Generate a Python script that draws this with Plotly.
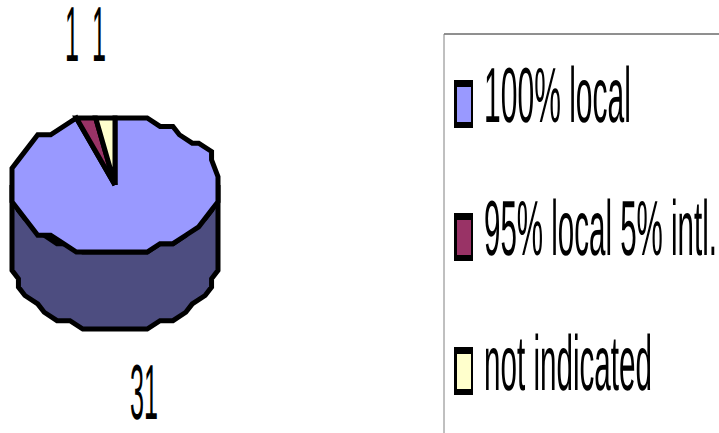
import math
import plotly.graph_objects as go

categories = ["100% local", "95% local 5% intl.", "not indicated"]
values = [31, 1, 1]
colors = ["#9999FF", "#993366", "#FFFFCC"]
side_color = "#4D4D80"

W, H = 719, 433
CX, CY, RX, RY, DEPTH = 115, 185, 103, 67, 77
STEP = 8
GX, GY = RX / 16, RY / 8
BIAS = 0.1


def snap(v, grid):
    # coarse raster grid, leaning outward: gives the chart its stair-stepped outline
    s = 1 if v >= 0 else -1
    return s * round(abs(v) / grid + BIAS) * grid


def pt(deg, dy=0):
    a = math.radians(deg)
    return CX + snap(RX * math.sin(a), GX), CY - snap(RY * math.cos(a), GY) + dy


def arc(a0, a1, dy=0):
    n = max(1, int(abs(a1 - a0) // STEP))
    return [pt(a0 + (a1 - a0) * i / n, dy) for i in range(n + 1)]


def closed(points, color, width=5):
    xs = [p[0] for p in points] + [points[0][0]]
    ys = [p[1] for p in points] + [points[0][1]]
    return go.Scatter(x=xs, y=ys, mode="lines", fill="toself", fillcolor=color,
                      line=dict(color="black", width=width),
                      hoverinfo="skip", showlegend=False)


fig = go.Figure()

# cylinder wall
front = arc(90, 270)
wall = front + [(x, y + DEPTH) for x, y in reversed(front)]
fig.add_trace(closed(wall, side_color))

# top slices, clockwise from twelve o'clock
total = sum(values)
angle = 0
for value, color in zip(values, colors):
    sweep = 360 * value / total
    fig.add_trace(closed([(CX, CY)] + arc(angle, angle + sweep), color))
    angle += sweep

FONT = "Liberation Sans"
SIZE = 78


def label(x, y, text, position):
    fig.add_trace(go.Scatter(x=[x], y=[y], mode="text", text=[text], textposition=position,
                             textfont=dict(family=FONT, size=SIZE, color="black"),
                             hoverinfo="skip", showlegend=False, cliponaxis=False))


# data labels
label(72, 41, str(values[1]), "middle center")
label(99, 41, str(values[2]), "middle center")
label(144, 399, str(values[0]), "middle center")

# legend
text_rows = [102, 235, 370]
swatch_tops = [80, 213, 347]
for name, color, yc, top in zip(categories, colors, text_rows, swatch_tops):
    fig.add_shape(type="rect", x0=454, x1=473, y0=top, y1=top + 48, fillcolor="black",
                  line=dict(width=0), layer="above")
    fig.add_shape(type="rect", x0=457, x1=471, y0=top + 7, y1=top + 42, fillcolor=color,
                  line=dict(width=0), layer="above")
    label(484, yc, name, "middle right")

fig.add_shape(type="line", x0=444, x1=W, y0=34, y1=34, line=dict(color="#202020", width=1))
fig.add_shape(type="line", x0=444, x1=444, y0=34, y1=H, line=dict(color="#808080", width=1))

fig.update_layout(
    width=W, height=H, margin=dict(l=0, r=0, t=0, b=0), showlegend=False,
    paper_bgcolor="white", plot_bgcolor="white",
    xaxis=dict(range=[0, W], visible=False, fixedrange=True),
    yaxis=dict(range=[H, 0], visible=False, fixedrange=True),
)

post = """
document.body.style.margin = '0';
var widths = {'1': 14, '31': 28, '100% local': 147, '95% local 5% intl.': 233, 'not indicated': 168};
document.querySelectorAll('.textpoint text').forEach(function (t) {
  var w = widths[t.textContent];
  t.style.textRendering = 'geometricPrecision';
  if (w) { t.setAttribute('textLength', w); t.setAttribute('lengthAdjust', 'spacingAndGlyphs'); }
});
"""
fig.write_html("out.html", post_script=post, config={"displayModeBar": False})
